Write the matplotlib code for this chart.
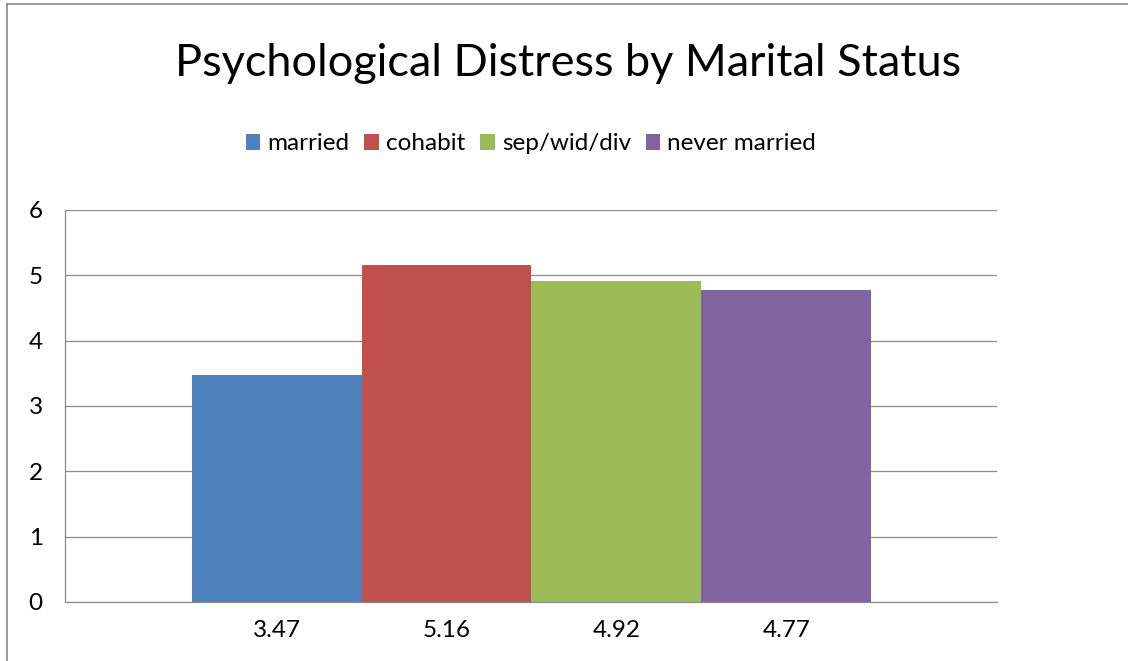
import matplotlib
matplotlib.use("Agg")
import matplotlib.pyplot as plt
from matplotlib.patches import Patch
from matplotlib.lines import Line2D

# data
groups = ["married", "cohabit", "sep/wid/div", "never married"]
values = [3.47, 5.16, 4.92, 4.77]
value_labels = ["3.47", "5.16", "4.92", "4.77"]
colors = ["#4F81BD", "#C0504D", "#9BBB59", "#8064A2"]

plt.rcParams["font.family"] = ["Lato", "DejaVu Sans"]

W, H = 1128, 661
fig = plt.figure(figsize=(W / 100, H / 100), dpi=100)
ax = fig.add_axes([65 / W, 1 - 602 / H, (997 - 65) / W, (602 - 210) / H])

x = range(len(values))
ax.bar(x, values, width=1.0, color=colors, zorder=3)

ax.set_ylim(0, 6)
ax.set_yticks(range(0, 7))
ax.set_xlim(-1.245, 4.24)
ax.set_xticks(list(x))
ax.set_xticklabels(value_labels, fontsize=17.5)
ax.tick_params(axis="y", labelsize=17.5, length=0, pad=16)
ax.tick_params(axis="x", length=0, pad=13)
ax.grid(axis="y", color="#8c8c8c", linewidth=0.9, zorder=0)
for s in ["top", "right"]:
    ax.spines[s].set_visible(False)
for s in ["left", "bottom"]:
    ax.spines[s].set_color("#8c8c8c")
    ax.spines[s].set_linewidth(0.9)

fig.text(568 / W, 1 - 63 / H, "Psychological Distress by Marital Status",
         fontsize=32.5, ha="center", va="center")

handles = [Patch(facecolor=c, edgecolor="none") for c in colors]
fig.legend(handles, groups, loc="center", bbox_to_anchor=(531 / W, 1 - 144 / H),
           ncol=4, frameon=False, fontsize=17.5, handlelength=0.6, handleheight=0.6,
           handletextpad=0.3, columnspacing=0.6)

# chart-area border (clipped at right/bottom like the source)
fig.add_artist(Line2D([7 / W, 7 / W], [0, 1 - 4 / H], color="#888888", lw=1.2))
fig.add_artist(Line2D([7 / W, 1], [1 - 4 / H, 1 - 4 / H], color="#888888", lw=1.2))

fig.savefig("out.png", dpi=100)
